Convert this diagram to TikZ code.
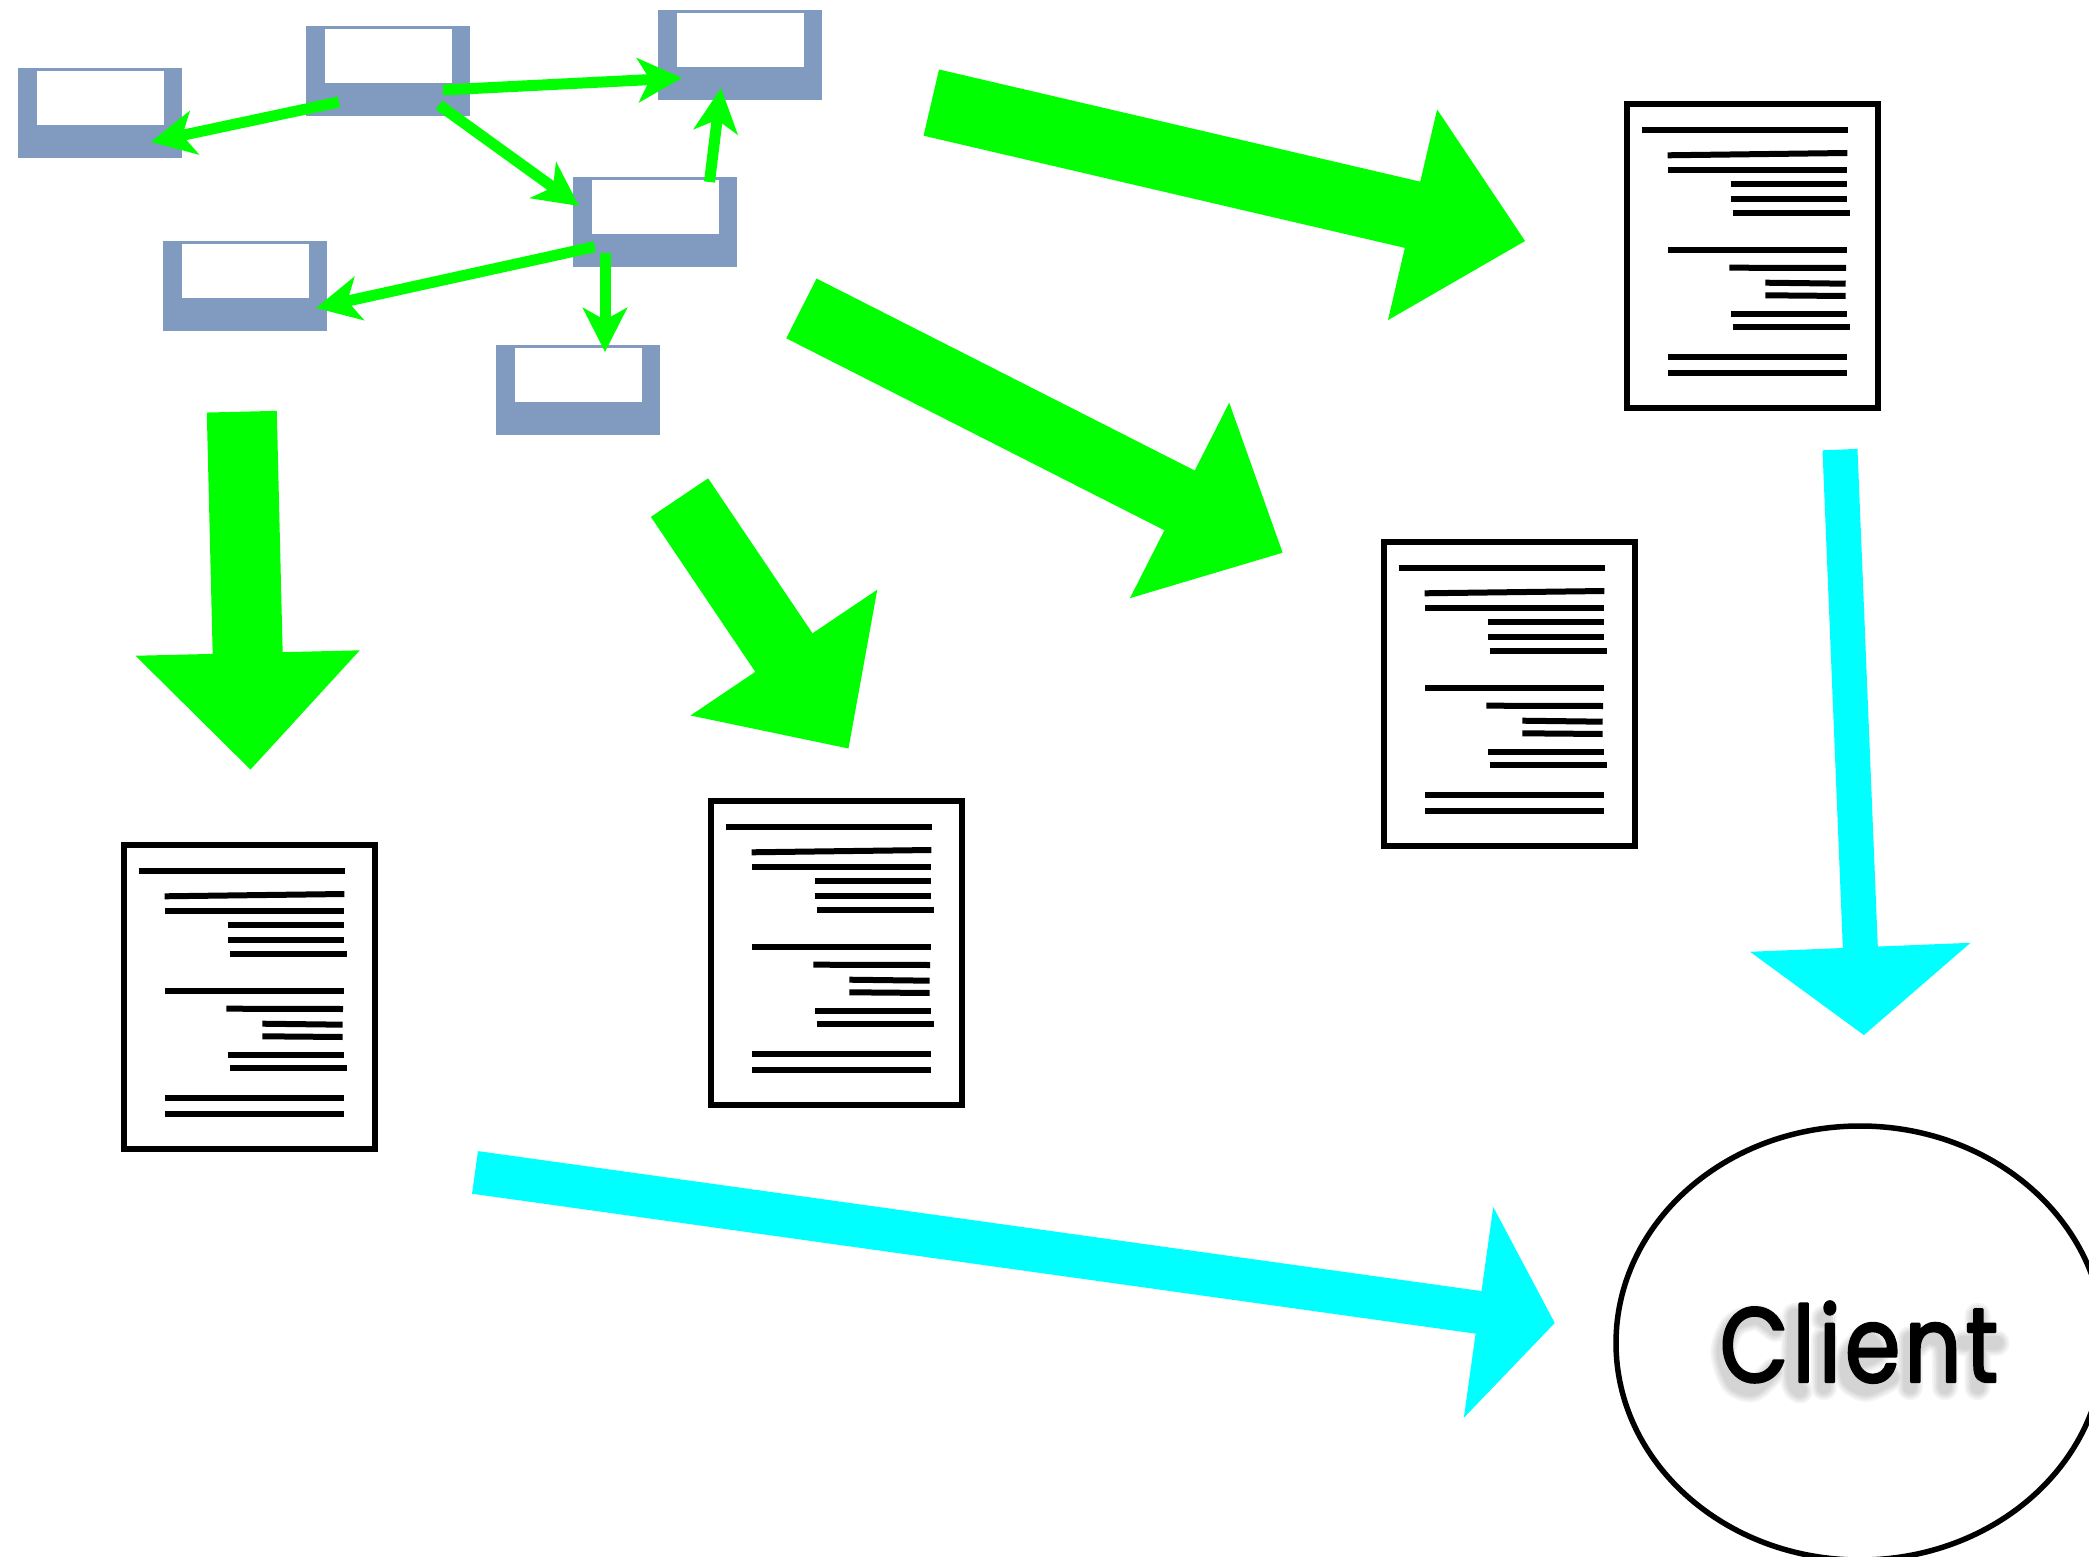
\documentclass[tikz,border=0pt]{standalone}
\usepackage{fontspec}
\usetikzlibrary{arrows.meta,shapes.geometric}
\newfontfamily\clientfont[FakeBold=2.2,FakeStretch=0.84,LetterSpace=4]{Poppins}
\definecolor{serverblue}{HTML}{819ABF}
\definecolor{flowgreen}{HTML}{00FF00}
\definecolor{flowcyan}{HTML}{00FFFF}
\tikzset{
  server/.style={rectangle,draw=none,fill=serverblue,minimum width=164pt,minimum height=90pt,inner sep=0pt,outer sep=0pt},
  window/.style={rectangle,draw=none,fill=white,minimum width=127pt,minimum height=54pt,inner sep=0pt,outer sep=0pt},
  link/.style={draw=flowgreen,line width=11pt,-{Stealth[length=44pt,width=44pt,inset=12pt]}},
  bigflow/.style n args={4}{draw=#1,line width=#2,-{Triangle[length=#3,width=#4]}},
  pageframe/.style={rectangle,draw=black,line width=6pt,fill=white,minimum width=251pt,minimum height=304pt,inner sep=0pt,outer sep=0pt,anchor=north west},
  textline/.style={draw=black,line width=6pt},
  clientnode/.style={ellipse,draw=black,line width=5.5pt,fill=white,minimum width=488pt,minimum height=434pt,inner sep=0pt,outer sep=0pt},
  docpage/.pic={
    \node[pageframe] (-frame) at (0,0) {};
    \draw[textline] (14.7,26.3) -- (220.7,26.3);
    \draw[textline] (40.7,51.3) -- (220.3,49);
    \draw[textline] (41.3,66) -- (220.3,66);
    \draw[textline] (103.7,80.3) -- (220.3,80.3);
    \draw[textline] (103.7,95.3) -- (220.3,95.3);
    \draw[textline] (105.7,108.7) -- (223,108.7);
    \draw[textline] (41.3,146) -- (220.3,146);
    \draw[textline] (102.3,163.7) -- (219,164);
    \draw[textline] (138.3,178.7) -- (218.7,179.7);
    \draw[textline] (138.3,191.3) -- (218.7,192);
    \draw[textline] (103.7,210) -- (220.3,210);
    \draw[textline] (105.7,223.3) -- (223,223.3);
    \draw[textline] (41.3,252.7) -- (220.3,252.7);
    \draw[textline] (41.3,268.7) -- (220.3,268.7);
  }
}
\begin{document}
\begin{tikzpicture}[x=1pt,y=-1pt]
\useasboundingbox (0,0) rectangle (2089,1557);
% servers
\node[server] (sA) at (100,113) {};
\node[server] (sB) at (388,71) {};
\node[server] (sC) at (740,55) {};
\node[server] (sD) at (655,222) {};
\node[server] (sE) at (245,286) {};
\node[server] (sF) at (578,390) {};
\node[window] (wA) at (100,98) {};
\node[window] (wB) at (388,56) {};
\node[window] (wC) at (740,40) {};
\node[window] (wD) at (655,207) {};
\node[window] (wE) at (245,271) {};
\node[window] (wF) at (578,375) {};
% connector ends
\coordinate (ba0) at (339,102);  \coordinate (ba1) at (151,142);
\coordinate (bc0) at (443,90);   \coordinate (bc1) at (682,78);
\coordinate (bd0) at (439,105);  \coordinate (bd1) at (579,206);
\coordinate (dc0) at (709.5,182);\coordinate (dc1) at (721,88);
\coordinate (de0) at (594.6,246.7); \coordinate (de1) at (316,308);
\coordinate (df0) at (605,253);  \coordinate (df1) at (605,352);
\draw[link] (ba0) -- (ba1);
\draw[link] (bc0) -- (bc1);
\draw[link] (bd0) -- (bd1);
\draw[link] (dc0) -- (dc1);
\draw[link] (de0) -- (de1);
\draw[link] (df0) -- (df1);
% documents
\pic (d1) at (1627,104) {docpage};
\pic (d2) at (1384,542) {docpage};
\pic (d3) at (711,801) {docpage};
\pic (d4) at (124,845) {docpage};
% client
\node[clientnode] (client) at (1860,1343) {};
\begin{scope}[shift={(1600,1119)},x=.3333pt,y=-.3333pt]
  \foreach \w in {26,22,18,14}{
    \path[draw=black,opacity=.045,line width=\w pt,line cap=round,line join=round]
      plot[smooth] coordinates {(525,630) (470,595) (400,620) (370,700) (400,790) (460,810) (520,755)}
      plot[smooth] coordinates {(585,590) (580,780) (600,815)}
      (672,598) -- (672,602)
      (672,660) -- (672,805)
      plot[smooth] coordinates {(745,740) (830,705) (800,660) (745,710) (745,780) (800,810) (875,775)}
      (930,660) -- (930,805)
      plot[smooth] coordinates {(930,700) (980,655) (1030,680) (1035,805)}
      (1133,590) -- (1133,805)
      (1090,672) -- (1190,672);
  }
\end{scope}
\node[inner sep=0pt,anchor=base] (clientlabel) at (1859,1382) {\special{pdf:code 1 J 1 j}\clientfont\fontsize{106}{106}\selectfont Client};
% big flows
\coordinate (g1a) at (931.3,102.6); \coordinate (g1b) at (1525.5,241.1);
\coordinate (g2a) at (801.4,308.4); \coordinate (g2b) at (1283,552.9);
\coordinate (g3a) at (241.8,411.7); \coordinate (g3b) at (250.5,770);
\coordinate (g4a) at (679.5,497.6); \coordinate (g4b) at (848.7,748.8);
\coordinate (c1a) at (1840,449.6);  \coordinate (c1b) at (1863.9,1035.2);
\coordinate (c2a) at (475,1172.4);  \coordinate (c2b) at (1554.8,1323);
\draw[bigflow={flowgreen}{68pt}{116pt}{209pt}] (g1a) -- (g1b);
\draw[bigflow={flowgreen}{67pt}{116pt}{212pt}] (g2a) -- (g2b);
\draw[bigflow={flowgreen}{70pt}{117pt}{217pt}] (g3a) -- (g3b);
\draw[bigflow={flowgreen}{69pt}{116pt}{218pt}] (g4a) -- (g4b);
\draw[bigflow={flowcyan}{35pt}{88pt}{216pt}] (c1a) -- (c1b);
\draw[bigflow={flowcyan}{43pt}{77pt}{209pt}] (c2a) -- (c2b);
\end{tikzpicture}
\end{document}
